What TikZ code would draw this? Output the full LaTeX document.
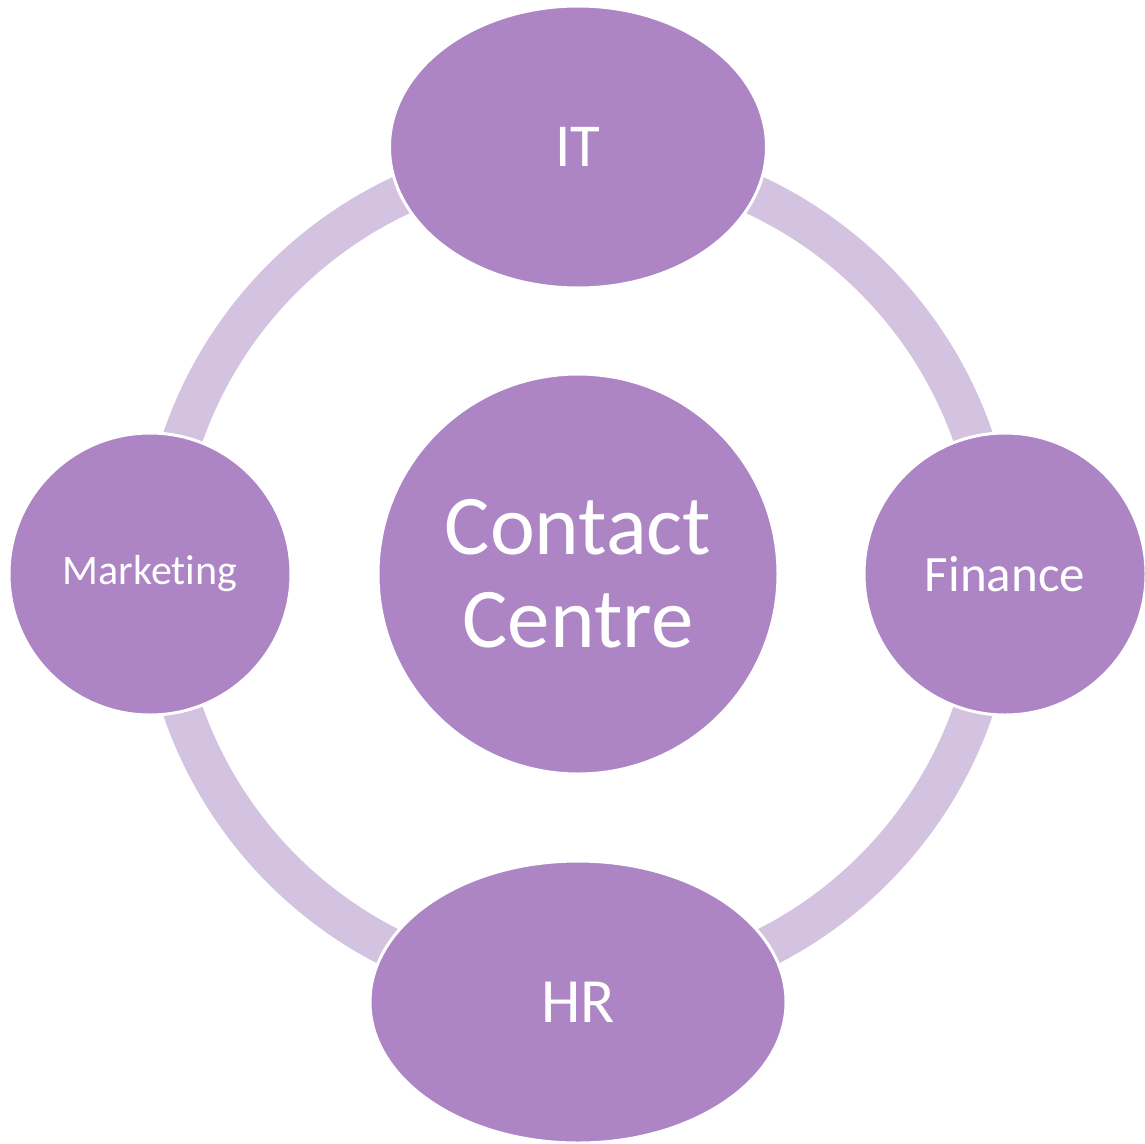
\documentclass[tikz,border=0pt]{standalone}
\usepackage{fontspec}
\setmainfont{Carlito}[Ligatures=NoCommon]
\usetikzlibrary{shapes.geometric}
\definecolor{hubfill}{HTML}{AD85C5}
\definecolor{ringfill}{HTML}{D3C3E0}
\begin{document}
\begin{tikzpicture}[x=1pt,y=-1pt,
  bubble/.style={fill=hubfill,draw=white,line width=3pt,text=white,inner sep=0pt,align=center},
  oval/.style={bubble,ellipse},
  disc/.style={bubble,circle}]
\useasboundingbox (0,0) rectangle (1145,1143);
% ring linking the departments
\draw[ringfill,line width=40pt] (578,574) circle[radius=418];
% centre hub
\node[disc,minimum size=400pt,font=\fontsize{85}{93}\selectfont] (hub) at (578,574) {Contact\\Centre};
% departments
\node[oval,minimum width=377pt,minimum height=282pt,font=\fontsize{61}{61}\selectfont] (it) at (578,147) {IT};
\node[oval,minimum width=416pt,minimum height=282pt,font=\fontsize{63}{63}\selectfont] (hr) at (578,1002) {HR};
\node[disc,minimum size=282pt,font=\fontsize{42}{42}\selectfont] (mkt) at (150,574) {Marketing};
\node[disc,minimum size=282pt,font=\fontsize{51}{51}\selectfont] (fin) at (1005,574) {Finance};
\end{tikzpicture}
\end{document}
